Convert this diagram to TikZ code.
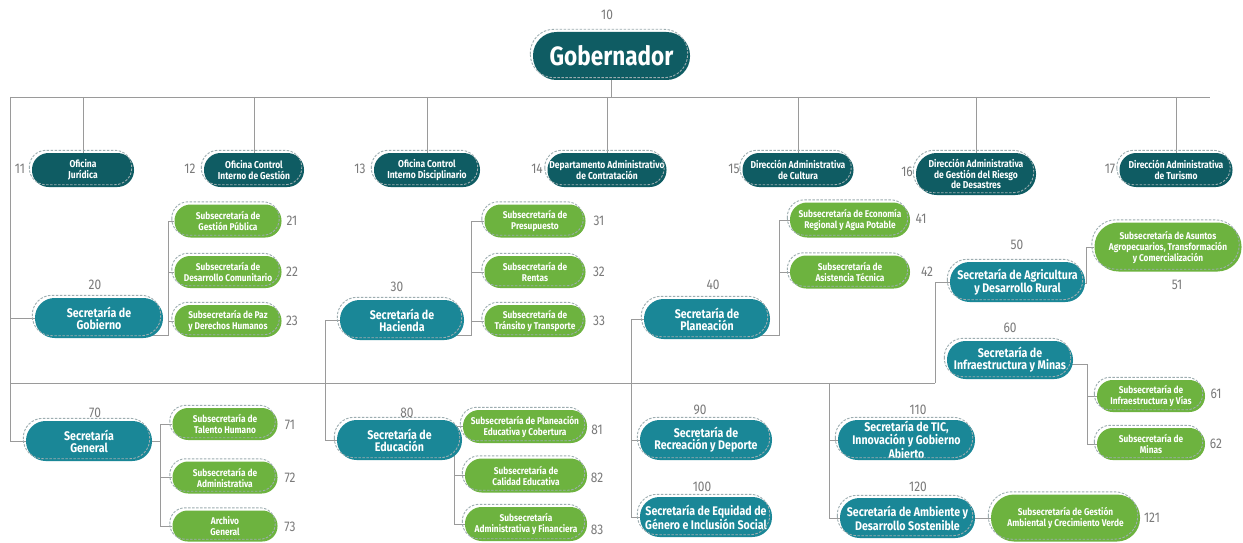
\documentclass[tikz,border=0pt]{standalone}
\usepackage{fontspec}
\setmainfont{Fira Sans}[FakeStretch=0.85]
\definecolor{dteal}{HTML}{0F5C63}
\definecolor{mteal}{HTML}{1A8797}
\definecolor{lgreen}{HTML}{6DB33F}
\definecolor{numgray}{HTML}{7A7A7A}
\definecolor{linegray}{HTML}{9A9A9A}
\definecolor{dashgray}{HTML}{9DADB0}
\pgfdeclarelayer{back}
\pgfdeclarelayer{bg}
\pgfsetlayers{back,bg,main}
\tikzset{
 boxbase/.style={rectangle, inner sep=0pt, align=center, text=white},
 topbox/.style={boxbase, fill=dteal, font=\bfseries\fontsize{10}{10.8}\selectfont},
 secbox/.style={boxbase, fill=mteal, font=\bfseries\fontsize{12.5}{11.8}\selectfont},
 subbox/.style={boxbase, fill=lgreen, font=\bfseries\fontsize{9.8}{11}\selectfont},
 govbox/.style={boxbase, fill=dteal, font=\bfseries\fontsize{26.5}{28}\selectfont},
 dashbox/.style={draw=dashgray, line width=0.9pt, dash pattern=on 2.5pt off 1.5pt},
 conn/.style={draw=linegray, line width=0.8pt},
 num/.style={text=numgray, font=\fontsize{14}{14}\selectfont, inner sep=0pt},
}
\newcommand\pill[7]{%
  \node[#2, minimum width=#5pt, minimum height=#6pt, rounded corners={#6*0.49pt}] (#1) at (#3,#4) {#7};
  \draw[dashbox, rounded corners={#6*0.49pt}] ([shift={(-2.5,-2.5)}]#1.south west) rectangle ([shift={(-2.5,-2.5)}]#1.north east);
}
\begin{document}
\begin{tikzpicture}[x=1pt,y=-1pt]
\useasboundingbox (0,0) rectangle (1243,543);
\begin{pgfonlayer}{back}
\fill[white] (0,0) rectangle (1243,543);
\end{pgfonlayer}

% ---------- boxes ----------
\pill{gob}{govbox}{611.5}{56}{157}{48}{Gobernador}
\pill{n11}{topbox}{83}{170}{102}{34}{Oficina\\Jurídica}
\pill{n12}{topbox}{254}{170}{100}{34}{Oficina Control\\Interno de Gestión}
\pill{n13}{topbox}{427}{170}{106}{34}{Oficina Control\\Interno Disciplinario}
\pill{n14}{topbox}{607}{170}{119}{34}{Departamento Administrativo\\de Contratación}
\pill{n15}{topbox}{798}{170}{111}{34}{Dirección Administrativa\\de Cultura}
\pill{n16}{topbox}{976}{174}{120}{42}{Dirección Administrativa\\de Gestión del Riesgo\\de Desastres}
\pill{n17}{topbox}{1176}{170}{113}{34}{Dirección Administrativa\\de Turismo}

\pill{n20}{secbox}{99}{318}{128}{40}{Secretaría de\\Gobierno}
\pill{n21}{subbox}{228}{221}{107}{33}{Subsecretaría de\\Gestión Pública}
\pill{n22}{subbox}{228}{272}{107}{32}{Subsecretaría de\\Desarrollo Comunitario}
\pill{n23}{subbox}{228}{321}{107}{32}{Subsecretaría de Paz\\y Derechos Humanos}

\pill{n30}{secbox}{402}{320}{124}{40}{Secretaría de\\Hacienda}
\pill{n31}{subbox}{535}{221}{101}{33}{Subsecretaría de\\Presupuesto}
\pill{n32}{subbox}{535}{272}{101}{32}{Subsecretaría de\\Rentas}
\pill{n33}{subbox}{535}{321}{101}{32}{Subsecretaría de\\Tránsito y Transporte}

\pill{n40}{secbox}{707}{319}{126}{40}{Secretaría de\\Planeación}
\pill{n41}{subbox}{850}{220}{120}{35}{Subsecretaría de Economía\\Regional y Agua Potable}
\pill{n42}{subbox}{850}{272}{120}{33}{Subsecretaría de\\Asistencia Técnica}

\pill{n50}{secbox}{1017.5}{282}{135}{40}{Secretaría de Agricultura\\y Desarrollo Rural}
\pill{n51}{subbox}{1168}{247}{147}{49}{Subsecretaría de Asuntos\\Agropecuarios, Transformación\\y Comercialización}

\pill{n60}{secbox}{1010}{360}{126}{38}{Secretaría de\\Infraestructura y Minas}
\pill{n61}{subbox}{1151}{396}{108}{32}{Subsecretaría de\\Infraestructura y Vías}
\pill{n62}{subbox}{1151}{444}{108}{32}{Subsecretaría de\\Minas}

\pill{n70}{secbox}{89}{441}{126}{40}{Secretaría\\General}
\pill{n71}{subbox}{225}{424}{105}{32}{Subsecretaría de\\Talento Humano}
\pill{n72}{subbox}{225}{477.5}{105}{32}{Subsecretaría de\\Administrativa}
\pill{n73}{subbox}{225}{526}{105}{31}{Archivo\\General}

\pill{n80}{secbox}{399.5}{440}{125}{40}{Secretaría de\\Educación}
\pill{n81}{subbox}{525}{426.5}{124}{33}{Subsecretaría de Planeación\\Educativa y Cobertura}
\pill{n82}{subbox}{526}{475.5}{122}{34}{Subsecretaría de\\Calidad Educativa}
\pill{n83}{subbox}{526}{524}{122}{34}{Subsecretaría\\Administrativa y Financiera}

\pill{n90}{secbox}{706}{440}{132}{40}{Secretaría de\\Recreación y Deporte}
\pill{n100}{secbox}{706}{517}{132}{40}{Secretaría de Equidad de\\Género e Inclusión Social}
\pill{n110}{secbox}{906.5}{440}{137}{40}{Secretaría de TIC,\\Innovación y Gobierno\\Abierto}
\pill{n120}{secbox}{907.5}{518}{135}{40}{Secretaría de Ambiente y\\Desarrollo Sostenible}
\pill{n121}{subbox}{1065.5}{518}{149}{47}{Subsecretaría de Gestión\\Ambiental y Crecimiento Verde}

% ---------- numbers ----------
\node[num] (t10) at (607,15) {10};
\node[num] (t11) at (20,169) {11};
\node[num] (t12) at (190,169) {12};
\node[num] (t13) at (360,169) {13};
\node[num] (t14) at (537,169) {14};
\node[num] (t15) at (734,169) {15};
\node[num] (t16) at (907,172) {16};
\node[num] (t17) at (1110,169) {17};
\node[num] (t20) at (95,285) {20};
\node[num] (t30) at (397,287) {30};
\node[num] (t40) at (713,285) {40};
\node[num] (t50) at (1017,245) {50};
\node[num] (t60) at (1010,328) {60};
\node[num] (t70) at (95,413) {70};
\node[num] (t80) at (407,413) {80};
\node[num] (t90) at (700,410) {90};
\node[num] (t100) at (702,487) {100};
\node[num] (t110) at (918,410) {110};
\node[num] (t120) at (918,487) {120};
\node[num] (t21) at (292,221) {21};
\node[num] (t22) at (292,272) {22};
\node[num] (t23) at (292,321) {23};
\node[num] (t31) at (599,221) {31};
\node[num] (t32) at (599,272) {32};
\node[num] (t33) at (599,321) {33};
\node[num] (t41) at (921,219) {41};
\node[num] (t42) at (927,272) {42};
\node[num] (t51) at (1177,285) {51};
\node[num] (t61) at (1216,394) {61};
\node[num] (t62) at (1216,444) {62};
\node[num] (t71) at (290,425) {71};
\node[num] (t72) at (290,478) {72};
\node[num] (t73) at (290,527) {73};
\node[num] (t81) at (597,430) {81};
\node[num] (t82) at (597,478) {82};
\node[num] (t83) at (597,530) {83};
\node[num] (t121) at (1152,518) {121};

% ---------- connectors ----------
\begin{pgfonlayer}{bg}
\coordinate (hL) at (10,97);
\coordinate (hR) at (1210,97);
\draw[conn] (hL) -- (hR);
\draw[conn] (gob) -- (gob |- hL);
\foreach \n in {n11,n12,n13,n14,n15,n16,n17} \draw[conn] (\n |- hL) -- (\n);
% left trunk
\draw[conn] (hL) |- (n70);
\draw[conn] (hL |- n20) -- (n20);
% main horizontal
\coordinate (mL) at (10,383);
\coordinate (mR) at (935,383);
\draw[conn] (mL) -- (mR);
\draw[conn] (mR) |- (n50);
% Hacienda / Educacion
\coordinate (v30) at (325,0);
\draw[conn] (n30) -| (v30 |- n80) -- (n80);
% Planeacion / Recreacion / Equidad
\coordinate (v40) at (631,0);
\draw[conn] (n40) -| (v40 |- n100) -- (n100);
\draw[conn] (v40 |- n90) -- (n90);
% TIC / Ambiente
\coordinate (v110) at (829,383);
\draw[conn] (v110) |- (n120);
\draw[conn] (v110 |- n110) -- (n110);
\draw[conn] (n120) -- (n121);
% Gobierno bracket
\coordinate (b20) at (168,335);
\draw[conn] (n20 |- b20) -- (b20) |- (n21);
\draw[conn] (b20 |- n22) -- (n22);
\draw[conn] (b20 |- n23) -- (n23);
% Hacienda bracket
\coordinate (b30) at (471,335);
\draw[conn] (n30 |- b30) -- (b30) |- (n31);
\draw[conn] (b30 |- n32) -- (n32);
\draw[conn] (b30 |- n33) -- (n33);
% Planeacion bracket
\coordinate (b40) at (779,335);
\draw[conn] (n40 |- b40) -- (b40) |- (n41);
\draw[conn] (b40 |- n42) -- (n42);
% Agricultura bracket
\coordinate (b50) at (1086,283);
\draw[conn] (n50 |- b50) -- (b50) |- (n51);
% Infraestructura bracket
\coordinate (b60) at (1087,364);
\draw[conn] (n60 |- b60) -- (b60) |- (n62);
\draw[conn] (b60 |- n61) -- (n61);
% General bracket
\coordinate (b70) at (160,0);
\draw[conn] (b70 |- n71) -- (b70 |- n73);
\draw[conn] (n70) -- (b70 |- n70);
\draw[conn] (b70 |- n71) -- (n71);
\draw[conn] (b70 |- n72) -- (n72);
\draw[conn] (b70 |- n73) -- (n73);
% Educacion bracket
\coordinate (b80) at (454,0);
\draw[conn] (b80 |- n81) -- (b80 |- n83);
\draw[conn] (n80) -- (b80 |- n80);
\draw[conn] (b80 |- n81) -- (n81);
\draw[conn] (b80 |- n82) -- (n82);
\draw[conn] (b80 |- n83) -- (n83);
\end{pgfonlayer}
\end{tikzpicture}
\end{document}
